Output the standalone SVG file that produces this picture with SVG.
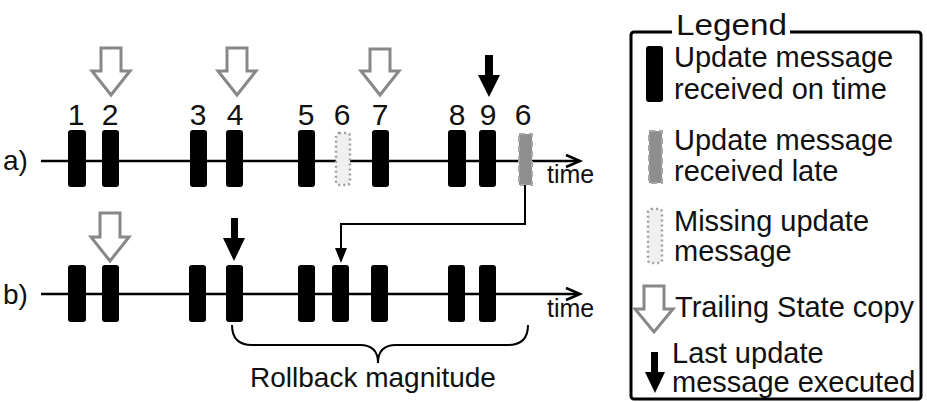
<svg xmlns="http://www.w3.org/2000/svg" width="927" height="402" viewBox="0 0 927 402">
<style>
text{font-family:"Liberation Sans",Arial,sans-serif;fill:#111}
.num{font-size:30px;text-anchor:middle}
.lbl{font-size:28px}
.time{font-size:25px}
.leg{font-size:29px}
.bar{fill:#000}
.late{fill:#8e8e8e;stroke:#a8a8a8;stroke-width:2;stroke-dasharray:6 4}
.miss{fill:#f0f0f0;stroke:#a0a0a0;stroke-width:2.5;stroke-dasharray:2 3}
.hol{fill:#fff;stroke:#888;stroke-width:3;stroke-linejoin:miter}
.blk{fill:#000}
.axis{stroke:#000;stroke-width:2.5;fill:none}
.conn{stroke:#000;stroke-width:2;fill:none}
</style>

<g id="row-a">
<text class="lbl" x="3" y="170">a)</text>
<line class="axis" x1="41" y1="161" x2="579" y2="161"/>
<polyline class="axis" points="566,155 580,161 566,167"/>
<text class="time" x="547" y="183">time</text>
<g id="a1"><rect class="bar" x="68" y="130" width="18" height="57" rx="3"/><text class="num" x="76" y="125">1</text></g>
<g id="a2"><rect class="bar" x="102" y="130" width="17" height="57" rx="3"/><text class="num" x="110" y="125">2</text></g>
<g id="a3"><rect class="bar" x="190" y="130" width="17" height="57" rx="3"/><text class="num" x="198" y="125">3</text></g>
<g id="a4"><rect class="bar" x="226" y="130" width="17" height="57" rx="3"/><text class="num" x="235" y="125">4</text></g>
<g id="a5"><rect class="bar" x="298" y="130" width="17" height="57" rx="3"/><text class="num" x="306" y="125">5</text></g>
<g id="a6m"><rect class="miss" x="336" y="133" width="14" height="52" rx="3"/><text class="num" x="342" y="125">6</text></g>
<g id="a7"><rect class="bar" x="372" y="130" width="17" height="57" rx="3"/><text class="num" x="380" y="125">7</text></g>
<g id="a8"><rect class="bar" x="448" y="130" width="18" height="57" rx="3"/><text class="num" x="457" y="125">8</text></g>
<g id="a9"><rect class="bar" x="479" y="130" width="17" height="57" rx="3"/><text class="num" x="488" y="125">9</text></g>
<g id="a6l"><rect class="late" x="519" y="134" width="13" height="51"/><text class="num" x="523" y="125">6</text></g>
<g id="a-ts2"><path class="hol" d="M101,48 H121 V71 H130 L111,95 L92,71 H101 Z"/></g>
<g id="a-ts4"><path class="hol" d="M227,48 H247 V71 H256 L237,95 L218,71 H227 Z"/></g>
<g id="a-ts7"><path class="hol" d="M370,49 H390 V71 H399 L380,95 L361,71 H370 Z"/></g>
<g id="a-last9"><path class="blk" d="M485,55 H493 V75 H500 L489,97 L478,75 H485 Z"/></g>
</g>

<g id="row-b">
<text class="lbl" x="3" y="304">b)</text>
<line class="axis" x1="41" y1="294" x2="579" y2="294"/>
<polyline class="axis" points="566,288 580,294 566,300"/>
<text class="time" x="547" y="317">time</text>
<g id="b1"><rect class="bar" x="68" y="265" width="18" height="57" rx="3"/></g>
<g id="b2"><rect class="bar" x="102" y="265" width="17" height="57" rx="3"/></g>
<g id="b3"><rect class="bar" x="189" y="265" width="17" height="57" rx="3"/></g>
<g id="b4"><rect class="bar" x="226" y="265" width="17" height="57" rx="3"/></g>
<g id="b5"><rect class="bar" x="298" y="265" width="17" height="57" rx="3"/></g>
<g id="b6"><rect class="bar" x="332" y="265" width="17" height="57" rx="3"/></g>
<g id="b7"><rect class="bar" x="371" y="265" width="17" height="57" rx="3"/></g>
<g id="b8"><rect class="bar" x="448" y="265" width="17" height="57" rx="3"/></g>
<g id="b9"><rect class="bar" x="479" y="265" width="17" height="57" rx="3"/></g>
<g id="b-ts2"><path class="hol" d="M100,213 H120 V237 H129 L110,261 L91,237 H100 Z"/></g>
<g id="b-last4"><path class="blk" d="M231,218 H238 V238 H245 L234,261 L223,238 H231 Z"/></g>
<g id="brace">
<path class="conn" d="M232,325 Q232,345 252,345 H360 Q378,345 378,363 Q378,345 396,345 H508 Q528,345 528,325"/>
<text class="lbl" x="250" y="387">Rollback magnitude</text>
</g>
</g>

<g id="connectors">
<path class="conn" d="M525,185 V224 H341 V250"/>
<path d="M335,248 L347,248 L341,263 Z" fill="#000"/>
</g>

<g id="legend">
<rect x="631" y="32" width="290" height="367" rx="3" fill="none" stroke="#000" stroke-width="3"/>
<rect x="672" y="20" width="118" height="20" fill="#fff"/>
<text x="676" y="35" font-size="30" textLength="111" lengthAdjust="spacingAndGlyphs">Legend</text>
<g id="leg-ontime">
<rect class="bar" x="646" y="46" width="17" height="56" rx="3"/>
<text class="leg" x="674" y="67">Update message</text>
<text class="leg" x="674" y="99">received on time</text>
</g>
<g id="leg-late">
<rect class="late" x="649" y="131" width="13" height="52"/>
<text class="leg" x="674" y="150">Update message</text>
<text class="leg" x="674" y="181">received late</text>
</g>
<g id="leg-missing">
<rect class="miss" x="648" y="209" width="14" height="54" rx="3"/>
<text class="leg" x="674" y="231">Missing update</text>
<text class="leg" x="674" y="261">message</text>
</g>
<g id="leg-trailing">
<path class="hol" d="M644,286 H664 V309 H673 L654,332 L635,309 H644 Z"/>
<text class="leg" x="675" y="317">Trailing State copy</text>
</g>
<g id="leg-last">
<path class="blk" d="M651,352 H658 V372 H665 L655,393 L645,372 H651 Z"/>
<text class="leg" x="672" y="363">Last update</text>
<text class="leg" x="672" y="392">message executed</text>
</g>
</g>
</svg>
